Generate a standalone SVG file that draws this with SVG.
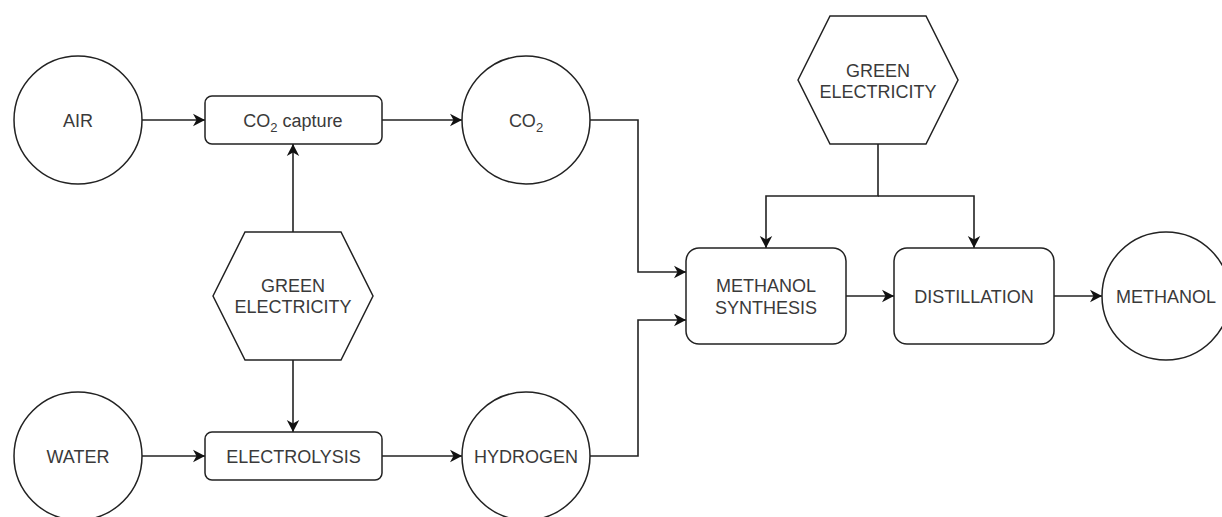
<svg xmlns="http://www.w3.org/2000/svg" width="1222" height="517" viewBox="0 0 1222 517">
<defs>
<style>
.shape{fill:#fff;stroke:#222;stroke-width:1.5}
.edge{fill:none;stroke:#222;stroke-width:1.6}
.lbl{font-family:"Liberation Sans",Arial,sans-serif;font-size:18px;fill:#3a3a3a;text-anchor:middle}
.sub{font-size:13px}
</style>
<marker id="arr" markerUnits="userSpaceOnUse" markerWidth="14" markerHeight="14" viewBox="0 0 14 14" refX="12" refY="7" orient="auto">
<path d="M0,0.8 L12,7 L0,13.2 L3.5,7 Z" fill="#111"/>
</marker>
</defs>
<rect width="1222" height="517" fill="#fff"/>
<g id="connectors">
<path class="edge" d="M142,120 H205" marker-end="url(#arr)"/>
<path class="edge" d="M382,120 H462" marker-end="url(#arr)"/>
<path class="edge" d="M590,120 H638 V272 H686" marker-end="url(#arr)"/>
<path class="edge" d="M142,456 H205" marker-end="url(#arr)"/>
<path class="edge" d="M382,456 H462" marker-end="url(#arr)"/>
<path class="edge" d="M590,456 H638 V320 H686" marker-end="url(#arr)"/>
<path class="edge" d="M293,232 V144" marker-end="url(#arr)"/>
<path class="edge" d="M293,360 V432" marker-end="url(#arr)"/>
<path class="edge" d="M878,144 V196 H766 V248" marker-end="url(#arr)"/>
<path class="edge" d="M878,196 H974 V248" marker-end="url(#arr)"/>
<path class="edge" d="M846,296 H894" marker-end="url(#arr)"/>
<path class="edge" d="M1054,296 H1102" marker-end="url(#arr)"/>
</g>
<g id="air">
<circle class="shape" cx="78" cy="120" r="64"/>
<text class="lbl" x="78" y="126.5">AIR</text>
</g>
<g id="co2-capture">
<rect class="shape" x="205" y="96" width="177" height="48" rx="7"/>
<text class="lbl" x="293" y="126.5">CO<tspan class="sub" dy="5">2</tspan><tspan dy="-5"> capture</tspan></text>
</g>
<g id="co2">
<circle class="shape" cx="526" cy="120" r="64"/>
<text class="lbl" x="526" y="126.5">CO<tspan class="sub" dy="5">2</tspan></text>
</g>
<g id="green-electricity-left">
<polygon class="shape" points="213,296 245,232 341,232 373,296 341,360 245,360"/>
<text class="lbl" x="293" y="291.5">GREEN</text>
<text class="lbl" x="293" y="313">ELECTRICITY</text>
</g>
<g id="water">
<circle class="shape" cx="78" cy="456" r="64"/>
<text class="lbl" x="78" y="462.5">WATER</text>
</g>
<g id="electrolysis">
<rect class="shape" x="205" y="432" width="177" height="48" rx="7"/>
<text class="lbl" x="293.5" y="462.5">ELECTROLYSIS</text>
</g>
<g id="hydrogen">
<circle class="shape" cx="526" cy="456" r="64"/>
<text class="lbl" x="526" y="462.5">HYDROGEN</text>
</g>
<g id="green-electricity-right">
<polygon class="shape" points="798,80 830,16 926,16 958,80 926,144 830,144"/>
<text class="lbl" x="878" y="76.5">GREEN</text>
<text class="lbl" x="878" y="98">ELECTRICITY</text>
</g>
<g id="methanol-synthesis">
<rect class="shape" x="686" y="248" width="160" height="96" rx="13"/>
<text class="lbl" x="766" y="292">METHANOL</text>
<text class="lbl" x="766" y="313.5">SYNTHESIS</text>
</g>
<g id="distillation">
<rect class="shape" x="894" y="248" width="160" height="96" rx="13"/>
<text class="lbl" x="974" y="302.5">DISTILLATION</text>
</g>
<g id="methanol">
<circle class="shape" cx="1166" cy="296" r="64"/>
<text class="lbl" x="1166" y="302.5">METHANOL</text>
</g>
</svg>
